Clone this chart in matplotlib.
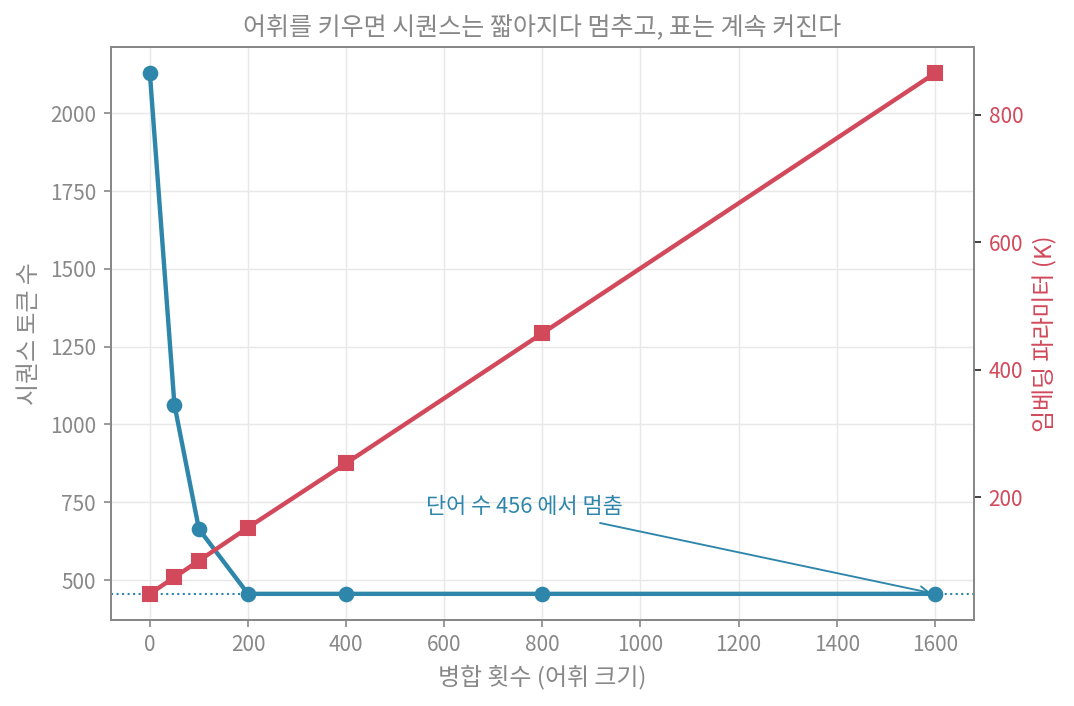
import matplotlib
matplotlib.use("Agg")
import matplotlib.pyplot as plt

plt.rcParams['font.family'] = ['Noto Sans CJK KR', 'DejaVu Sans']

merges = [0, 50, 100, 200, 400, 800, 1600]
seq_tokens = [2128, 1064, 664, 456, 456, 456, 456]
embed_params_k = [48, 74, 100, 152, 253, 457, 865]
stop_words = 456

title = "어휘를 키우면 시퀀스는 짧아지다 멈추고, 표는 계속 커진다"
xlabel = "병합 횟수 (어휘 크기)"
ylabel_left = "시퀀스 토큰 수"
ylabel_right = "임베딩 파라미터 (K)"
annot_text = "단어 수 456 에서 멈춤"

BLUE = "#2e86ab"
RED = "#d1495b"
GRAY = "#888888"

fig, ax = plt.subplots(figsize=(7.16, 4.707), dpi=150)
fig.subplots_adjust(left=0.103, right=0.907, top=0.933, bottom=0.122)

ax.plot(merges, seq_tokens, color=BLUE, lw=2.1, marker='o', ms=6.5, zorder=3)
ax.axhline(stop_words, color=BLUE, ls=':', lw=1.0)
ax.grid(True, color='#e8e8e8', lw=0.7)
ax.set_axisbelow(True)
ax.set_xticks([0, 200, 400, 600, 800, 1000, 1200, 1400, 1600])
ax.set_yticks([500, 750, 1000, 1250, 1500, 1750, 2000])
ax.tick_params(colors=GRAY, labelsize=10, length=3.5, width=0.8)
ax.set_xlabel(xlabel, color=GRAY, fontsize=11.5)
ax.set_ylabel(ylabel_left, color=GRAY, fontsize=11.5)
ax.set_title(title, color=GRAY, fontsize=12)
for s in ax.spines.values():
    s.set_color(GRAY)
    s.set_linewidth(0.9)

ax.annotate(annot_text, xy=(merges[-1], stop_words), xytext=(763, 735),
            ha='center', va='center', color=BLUE, fontsize=10.5,
            arrowprops=dict(arrowstyle='->', color=BLUE, lw=0.9))

ax2 = ax.twinx()
ax2.plot(merges, embed_params_k, color=RED, lw=2.1, marker='s', ms=7, zorder=3)
ax2.set_yticks([200, 400, 600, 800])
ax2.tick_params(axis='y', colors='#222222', labelsize=10, length=3.5, width=0.8)
ax2.tick_params(axis='y', labelcolor=RED)
ax2.set_ylabel(ylabel_right, color=RED, fontsize=11.5)
for s in ax2.spines.values():
    s.set_color(GRAY)
    s.set_linewidth(0.9)

fig.savefig("out.png", dpi=150)
